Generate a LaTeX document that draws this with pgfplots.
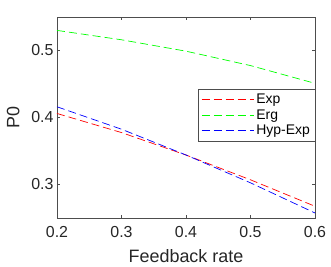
\documentclass[border=0pt]{standalone}
\usepackage{pgfplots}
\pgfplotsset{compat=1.18}
\usepackage{fontspec}
\setmainfont{Liberation Sans}
\definecolor{axgray}{RGB}{77,77,77}
\definecolor{txgray}{RGB}{38,38,38}
\begin{document}
\begin{tikzpicture}
\begin{axis}[
  at={(0,0)}, anchor=south west,
  scale only axis, width=258bp, height=201bp,
  xmin=0.2, xmax=0.6, ymin=0.25, ymax=0.55,
  xtick={0.2,0.3,0.4,0.5,0.6},
  ytick={0.3,0.4,0.5},
  xticklabels={0.2,0.3,0.4,0.5,0.6},
  yticklabels={0.3,0.4,0.5},
  tick align=inside,
  major tick length=3bp,
  axis line style={draw=axgray},
  tick style={draw=axgray},
  ticklabel style={font=\fontsize{16}{18}\selectfont, text=txgray},
  xticklabel style={yshift=-5bp},
  label style={font=\fontsize{18}{20}\selectfont, text=txgray},
  xlabel={Feedback rate},
  ylabel={P0},
  xlabel style={yshift=-5bp},
  ylabel style={yshift=5bp},
  legend style={at={(1,0.64)}, anchor=north east, font=\fontsize{14}{16}\selectfont, draw=axgray, inner xsep=3bp, inner ysep=2.5bp, row sep=0.5bp},
  legend cell align=left,
]
\addplot[draw=red, dash pattern=on 8bp off 4bp, line width=0.7pt,
  legend image code/.code={\color{red}\draw[red, line width=0.8pt, dash pattern=on 8bp off 4bp] (0bp,0bp) -- (44bp,0bp); \path (0bp,0bp) -- (52bp,0bp);}]
  coordinates {(0.2,0.406) (0.3,0.3775) (0.4,0.344) (0.5,0.307) (0.6,0.2675)};
\addlegendentry{Exp}
\addplot[draw=green, dash pattern=on 8bp off 4bp, line width=0.7pt,
  legend image code/.code={\color{green}\draw[green, line width=0.8pt, dash pattern=on 8bp off 4bp] (0bp,0bp) -- (44bp,0bp); \path (0bp,0bp) -- (52bp,0bp);}]
  coordinates {(0.2,0.530) (0.3,0.516) (0.4,0.499) (0.5,0.4775) (0.6,0.451)};
\addlegendentry{Erg}
\addplot[draw=blue, dash pattern=on 8bp off 4bp, line width=0.7pt,
  legend image code/.code={\color{blue}\draw[blue, line width=0.8pt, dash pattern=on 8bp off 4bp] (0bp,0bp) -- (44bp,0bp); \path (0bp,0bp) -- (52bp,0bp);}]
  coordinates {(0.2,0.416) (0.3,0.3825) (0.4,0.344) (0.5,0.3025) (0.6,0.2575)};
\addlegendentry{Hyp-Exp}
\end{axis}
\pgfresetboundingbox
\path (-57bp,-49bp) rectangle (274bp,218bp);
\end{tikzpicture}
\end{document}
